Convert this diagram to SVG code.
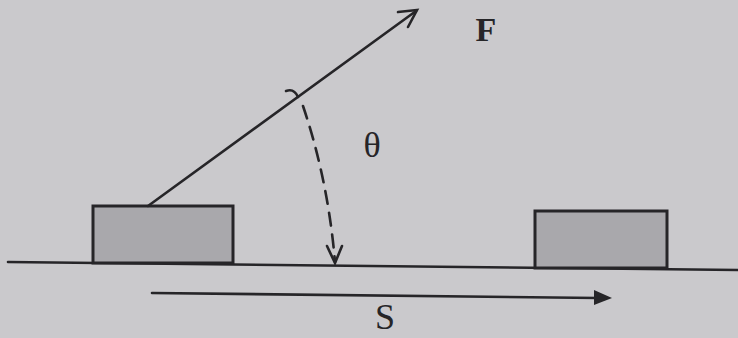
<svg xmlns="http://www.w3.org/2000/svg" width="738" height="338" viewBox="0 0 738 338">
<defs>
<style>
.ln{stroke:#262528;stroke-width:2.6;fill:none;stroke-linecap:round}
.box{fill:#a9a8ac;stroke:#262528;stroke-width:3}
.t{font-family:"Liberation Serif",serif;fill:#262528}
</style>
<marker id="fill" viewBox="0 0 10 10" refX="9" refY="5" markerWidth="7" markerHeight="7" orient="auto" markerUnits="userSpaceOnUse">
<path d="M0,0 L10,5 L0,10 Z" fill="#262528"/>
</marker>
</defs>
<rect width="738" height="338" fill="#cac9cc"/>
<g id="ground"><line class="ln" x1="8" y1="262" x2="738" y2="270"/></g>
<g id="block1"><rect class="box" x="93" y="206" width="140" height="57"/></g>
<g id="block2"><rect class="box" x="535" y="211" width="132" height="57"/></g>
<g id="connectors">
<line class="ln" x1="148" y1="206" x2="416" y2="11"/>
<path class="ln" d="M398,12 L417,10 L408,27"/>
<path class="ln" d="M286,91 Q294,88 298,97"/>
<path class="ln" d="M303,106 Q328,180 335,262" stroke-dasharray="13,9"/>
<path class="ln" d="M327,246 L335,263 L342,246"/>
<line class="ln" x1="152" y1="293" x2="598" y2="298"/>
<path d="M594,290 L612,298 L594,305 Z" fill="#262528"/>
</g>
<g id="labels">
<text class="t" x="486" y="41" font-size="34" font-weight="bold" text-anchor="middle">F</text>
<text class="t" x="372" y="157" font-size="36" text-anchor="middle">θ</text>
<text class="t" x="385" y="329" font-size="36" text-anchor="middle">S</text>
</g>
</svg>
